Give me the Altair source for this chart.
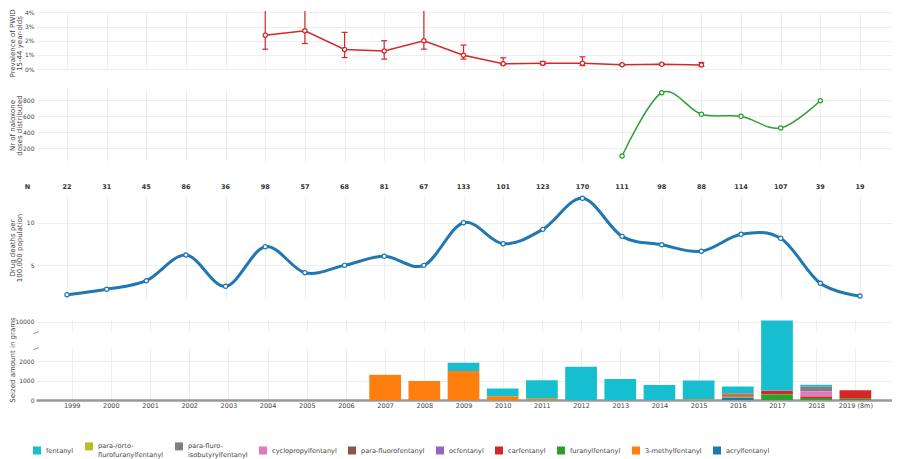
import altair as alt
import pandas as pd

FONT = "DejaVu Sans"
TXT = "#444444"
GRID = "#eeeeee"

# ---------------- data ----------------
years = list(range(1999, 2020))

# Panel 1: prevalence of PWID (%), with error bars
prev_years = [2004, 2005, 2006, 2007, 2008, 2009, 2010, 2011, 2012, 2013, 2014, 2015]
prev_value = [2.39, 2.70, 1.38, 1.27, 2.00, 0.97, 0.37, 0.41, 0.41, 0.30, 0.33, 0.28]
prev_low = [1.40, 1.80, 0.81, 0.70, 1.40, 0.70, 0.30, 0.30, 0.24, 0.26, 0.29, 0.20]
prev_high = [6.00, 6.00, 2.59, 2.00, 6.00, 1.69, 0.79, 0.53, 0.86, 0.34, 0.37, 0.46]

# Panel 2: naloxone doses distributed
nal_years = [2013, 2014, 2015, 2016, 2017, 2018]
nal_values = [100, 891, 621, 596, 450, 791]

# Panel 3: drug deaths per 100,000 population, with N
death_values = [1.56, 2.19, 3.2, 6.21, 2.54, 7.19, 4.14, 5.0, 6.06, 5.0,
                10.0, 7.54, 9.22, 12.86, 8.4, 7.42, 6.65, 8.64, 8.17, 2.9, 1.41]
n_labels = ["22", "31", "45", "86", "36", "98", "57", "68", "81", "67",
            "133", "101", "123", "170", "111", "98", "88", "114", "107", "39", "19"]

# Panel 4: seized amounts (grams) per substance
drugs = ["fentanyl", "para-/orto-flurofuranylfentanyl", "para-fluro-isobutyrylfentanyl",
         "cyclopropylfentanyl", "para-fluorofentanyl", "ocfentanyl", "carfentanyl",
         "furanylfentanyl", "3-methylfentanyl", "acrylfentanyl"]
drug_colors = ["#17becf", "#bcbd22", "#7f7f7f", "#e377c2", "#8c564b", "#9467bd",
               "#d62728", "#2ca02c", "#ff7f0e", "#1f77b4"]
fentanyl = [0, 0, 0, 0, 0, 0, 0, 0, 0, 0, 430, 390, 960, 1720, 1090, 770, 975, 350, 9650, 90, 0]
para_orto = [0, 0, 0, 0, 0, 0, 0, 0, 0, 0, 0, 0, 0, 0, 0, 0, 0, 10, 0, 0, 0]
para_isobutyryl = [0, 0, 0, 0, 0, 0, 0, 0, 0, 0, 0, 0, 0, 0, 0, 0, 0, 0, 0, 256, 0]
cyclopropyl = [0, 0, 0, 0, 0, 0, 0, 0, 0, 0, 0, 0, 0, 0, 0, 0, 0, 0, 0, 256, 0]
para_fluoro = [0, 0, 0, 0, 0, 0, 0, 0, 0, 0, 0, 0, 0, 0, 0, 0, 0, 40, 20, 0, 0]
ocfentanyl = [0, 0, 0, 0, 0, 0, 0, 0, 0, 0, 0, 0, 0, 0, 0, 0, 0, 20, 0, 0, 0]
carfentanyl = [0, 0, 0, 0, 0, 0, 0, 0, 0, 0, 0, 0, 0, 0, 0, 0, 0, 60, 175, 82, 440]
furanyl = [0, 0, 0, 0, 0, 0, 0, 0, 0, 0, 0, 0, 0, 0, 0, 0, 0, 50, 290, 100, 60]
methyl3 = [0, 0, 0, 0, 0, 0, 0, 0, 1300, 980, 1500, 200, 60, 0, 0, 0, 30, 60, 0, 0, 0]
acryl = [0, 0, 0, 0, 0, 0, 0, 0, 0, 0, 0, 0, 0, 0, 0, 0, 0, 110, 0, 0, 0]
series = [fentanyl, para_orto, para_isobutyryl, cyclopropyl, para_fluoro,
          ocfentanyl, carfentanyl, furanyl, methyl3, acryl]

# ---------------- tables ----------------
prev_df = pd.DataFrame({"year": prev_years, "value": prev_value, "low": prev_low, "high": prev_high})
nal_df = pd.DataFrame({"year": nal_years, "value": nal_values})
death_df = pd.DataFrame({"year": years, "value": death_values})
n_df = pd.DataFrame({"year": [1998] + years, "n": ["N"] + n_labels})
rows = []
for i, (name, vals) in enumerate(zip(drugs, series)):
    for yr, v in zip(years, vals):
        if v > 0:
            rows.append({"year": yr, "drug": name, "grams": v, "stack": len(drugs) - i})
seized_df = pd.DataFrame(rows)
one = pd.DataFrame({"a": [0]})

# ---------------- layout ----------------
W = 856
XMIN, XMAX = 1998.218, 2019.807
H1, H2, H3, H4 = 58, 72, 103, 81
xscale = alt.Scale(domain=[XMIN, XMAX], nice=False, zero=False)
x_hidden = alt.X("year:Q", scale=xscale,
                 axis=alt.Axis(values=years, labels=False, ticks=False, domain=False,
                               grid=True, gridColor=GRID, title=None))


def yaxis(values, title, label_expr=None, title_y=None):
    kw = dict(values=values, title=title, titleX=-28, titleBaseline="top", titleAngle=270,
              titleFontSize=7, titleFontWeight="normal", titleColor=TXT, titleFont=FONT,
              titleLineHeight=7.5,
              labelFontSize=6, labelColor=TXT, labelFont=FONT, labelPadding=2,
              labelOverlap=False, format="d",
              ticks=False, domain=False, grid=True, gridColor=GRID)
    if label_expr:
        kw["labelExpr"] = label_expr
    if title_y is not None:
        kw["titleY"] = title_y
    return alt.Axis(**kw)


def spacer(h):
    return alt.Chart(one).mark_text(text="").encode(
        x=alt.value(0), y=alt.value(0)).properties(width=W, height=h)


# Panel 1
RED = "#d62728"
s1 = alt.Scale(domain=[0, 4.1], nice=False)
ax1 = yaxis([0, 1, 2, 3, 4], ["Prevalence of PWID", "15-44 year-olds"],
            "datum.value + '%'", title_y=H1 / 2 + 3)
b1 = alt.Chart(prev_df)
p1 = alt.layer(
    b1.mark_rule(color=RED, strokeWidth=1.2, clip=True).encode(
        x=x_hidden, y=alt.Y("low:Q", scale=s1, axis=ax1), y2="high:Q"),
    b1.mark_rule(color=RED, strokeWidth=1.2, clip=True, xOffset=-3, x2Offset=3).encode(
        x=x_hidden, x2="year:Q", y=alt.Y("high:Q", scale=s1, axis=ax1)),
    b1.mark_rule(color=RED, strokeWidth=1.2, clip=True, xOffset=-3, x2Offset=3).encode(
        x=x_hidden, x2="year:Q", y=alt.Y("low:Q", scale=s1, axis=ax1)),
    b1.mark_line(color=RED, strokeWidth=1.5).encode(x=x_hidden, y=alt.Y("value:Q", scale=s1, axis=ax1)),
    b1.mark_point(filled=True, fill="white", stroke=RED, strokeWidth=1.2, size=18, opacity=1).encode(
        x=x_hidden, y=alt.Y("value:Q", scale=s1, axis=ax1)),
).properties(width=W, height=H1)

# Panel 2
GREEN = "#2ca02c"
y2 = alt.Y("value:Q", scale=alt.Scale(domain=[37.5, 937.5], nice=False, zero=False),
           axis=yaxis([200, 400, 600, 800], ["Nr of naloxone", "doses distributed"]))
b2 = alt.Chart(nal_df)
p2 = alt.layer(
    b2.mark_line(color=GREEN, strokeWidth=1.5, interpolate="cardinal").encode(x=x_hidden, y=y2),
    b2.mark_point(filled=True, fill="white", stroke=GREEN, strokeWidth=1.2, size=18, opacity=1).encode(x=x_hidden, y=y2),
).properties(width=W, height=H2)

# N row
n_row = alt.Chart(n_df).mark_text(font=FONT, fontSize=6.5, fontWeight="bold", color="#333333").encode(
    x=alt.X("year:Q", scale=xscale, axis=None), y=alt.value(26), text="n:N"
).properties(width=W, height=35)

# Panel 3
BLUE = "#1f77b4"
y3 = alt.Y("value:Q", scale=alt.Scale(domain=[1.055, 13.13], nice=False, zero=False),
           axis=yaxis([5, 10], ["Drug deaths per", "100,000 population"]))
b3 = alt.Chart(death_df)
p3 = alt.layer(
    b3.mark_line(color=BLUE, strokeWidth=3, interpolate="cardinal").encode(x=x_hidden, y=y3),
    b3.mark_point(filled=True, fill="white", stroke=BLUE, strokeWidth=1.2, size=18, opacity=1).encode(x=x_hidden, y=y3),
).properties(width=W, height=H3)

# Panel 4 (broken axis via piecewise scale)
yscale4 = alt.Scale(domain=[0, 2650, 9000, 10280], range=[H4, 29.7, 13.7, 0], nice=False, zero=False)
ax4 = yaxis([0, 1000, 2000, 10000], "Seized amount in grams")
x4 = alt.X("year:Q", scale=xscale,
           axis=alt.Axis(values=years, title=None, ticks=False, grid=True, gridColor=GRID,
                         domainColor="#999999", domainWidth=2.5, labelFont=FONT, labelFontSize=6.5,
                         labelColor=TXT, labelPadding=2, labelOverlap=False,
                         labelExpr="datum.value == 2019 ? '2019 (8m)' : '' + datum.value"))
legend_expr = ("datum.label == 'para-/orto-flurofuranylfentanyl' ? ['para-/orto-', 'flurofuranylfentanyl'] : "
               "datum.label == 'para-fluro-isobutyrylfentanyl' ? ['para-fluro-', 'isobutyrylfentanyl'] : datum.label")
bars = alt.Chart(seized_df).mark_bar(size=31.7).encode(
    x=x4,
    y=alt.Y("sum(grams):Q", scale=yscale4, stack="zero", axis=ax4),
    color=alt.Color("drug:N", scale=alt.Scale(domain=drugs, range=drug_colors),
                    legend=alt.Legend(title=None, orient="none", legendX=-3, legendY=431,
                                      direction="horizontal", columns=10, symbolType="square",
                                      symbolSize=64, symbolStrokeWidth=0, labelFont=FONT,
                                      labelFontSize=6.6, labelColor=TXT, labelLimit=300,
                                      columnPadding=11, labelOffset=5, labelExpr=legend_expr)),
    order=alt.Order("stack:Q"),
)
gap = alt.Chart(one).mark_rect(color="white").encode(
    x=alt.value(0), x2=alt.value(W), y=alt.datum(2650, scale=yscale4, axis=ax4), y2=alt.datum(9000))
brk_hi = alt.Chart(one).mark_rule(color="#999999", strokeWidth=1, yOffset=1, y2Offset=-1).encode(
    x=alt.value(-3), x2=alt.value(3), y=alt.datum(9000, axis=ax4), y2=alt.datum(9000))
brk_lo = alt.Chart(one).mark_rule(color="#999999", strokeWidth=1, yOffset=1, y2Offset=-1).encode(
    x=alt.value(-3), x2=alt.value(3), y=alt.datum(2650, axis=ax4), y2=alt.datum(2650))
p4 = alt.layer(gap, bars, brk_hi, brk_lo).properties(width=W, height=H4)

chart = alt.vconcat(p1, spacer(20), p2, n_row, p3, spacer(20), p4, spacing=0, bounds="flush").properties(
    padding=0, background="white").configure_view(stroke=None)

chart.save("out.html", embed_options={"renderer": "svg", "actions": False})
